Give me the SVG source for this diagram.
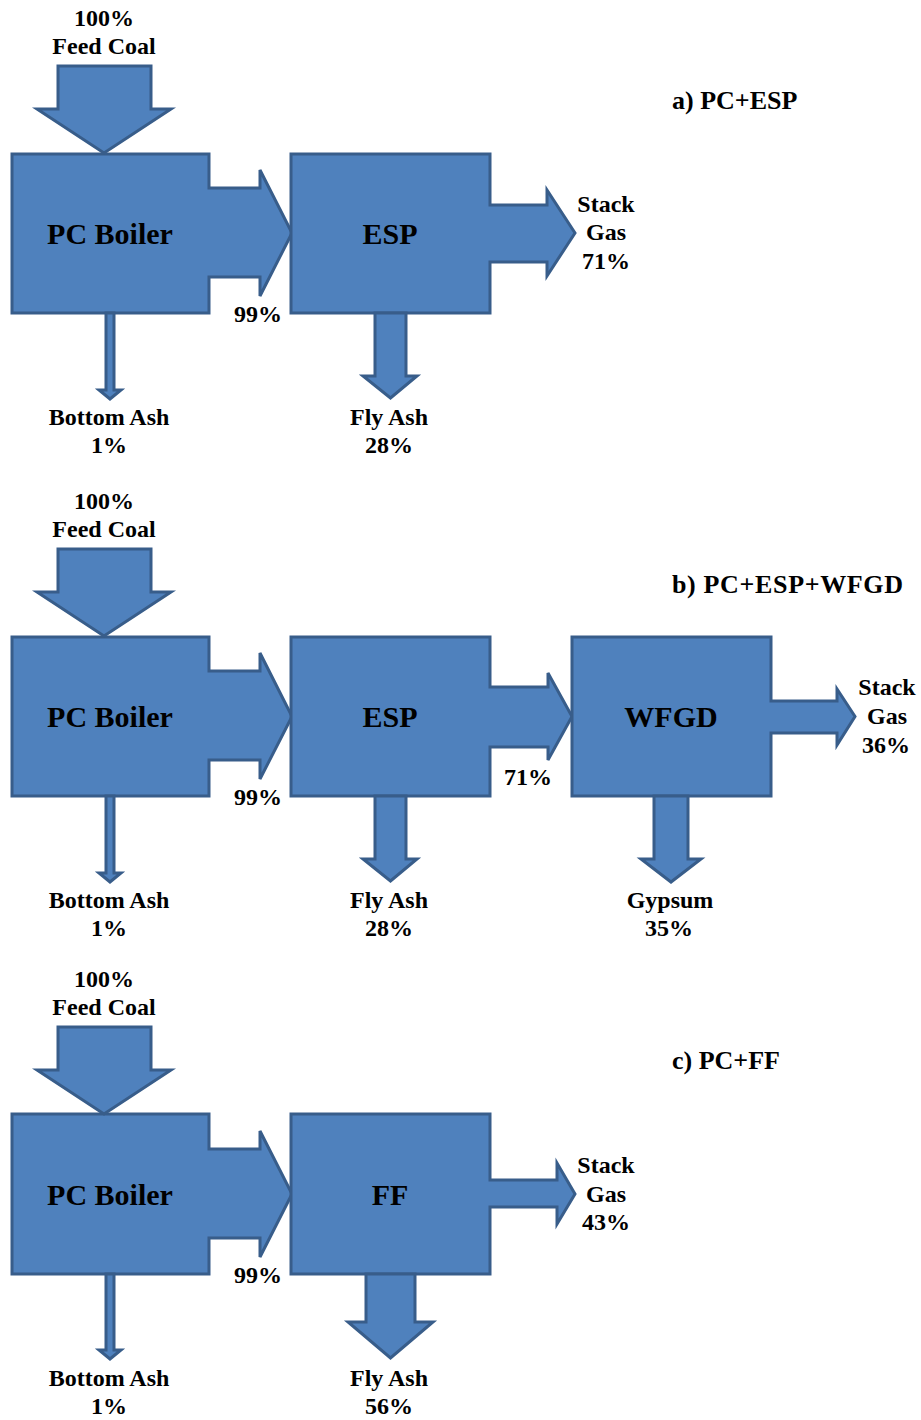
<svg xmlns="http://www.w3.org/2000/svg" width="921" height="1420" viewBox="0 0 921 1420">
<style>
.s{fill:#4F81BD;stroke:#385D8A;stroke-width:3;stroke-linejoin:miter}
text{font-family:"Liberation Serif","Times New Roman",serif;font-weight:bold;fill:#000}
.l{font-size:24px;text-anchor:middle}
.b{font-size:30px;text-anchor:middle}
.t{font-size:26px}
</style>
<rect width="921" height="1420" fill="#fff"/>

<!-- Panel a -->
<g id="panel-a">
  <g id="a-boiler"><path class="s" d="M12,154 H209 V188 H260 V170 L292,233 L260,296 V277 H209 V313 H12 Z"/><text class="b" x="110" y="244">PC Boiler</text></g>
  <g id="a-esp"><path class="s" d="M291,154 H490 V205 H547 V190 L575,233 L547,276 V262 H490 V313 H291 Z"/><text class="b" x="390" y="244">ESP</text></g>
  <g id="a-connectors">
    <path class="s" d="M58,66 H151 V109 H171 L104,153 L37,109 H58 Z"/>
    <path class="s" d="M106,313 V390 H99 L110,399 L121,390 H114 V313 Z"/>
    <path class="s" d="M375,313 V376 H363 L390.5,398 L417,376 H406 V313 Z"/>
  </g>
  <g id="a-labels">
    <text class="l" x="104" y="26">100%</text>
    <text class="l" x="104" y="54">Feed Coal</text>
    <text class="l" x="258" y="322">99%</text>
    <text class="l" x="109" y="425">Bottom Ash</text>
    <text class="l" x="109" y="453">1%</text>
    <text class="l" x="389" y="425">Fly Ash</text>
    <text class="l" x="389" y="453">28%</text>
    <text class="l" x="606" y="212">Stack</text>
    <text class="l" x="606" y="240">Gas</text>
    <text class="l" x="606" y="269">71%</text>
    <text class="t" x="672" y="109">a) PC+ESP</text>
  </g>
</g>

<!-- Panel b -->
<g id="panel-b">
  <g id="b-boiler"><path class="s" d="M12,637 H209 V671 H260 V653 L292,716.5 L260,779 V760 H209 V796 H12 Z"/><text class="b" x="110" y="727">PC Boiler</text></g>
  <g id="b-esp"><path class="s" d="M291,637 H490 V687 H548 V673 L572,716.5 L548,760 V747 H490 V796 H291 Z"/><text class="b" x="390" y="727">ESP</text></g>
  <g id="b-wfgd"><path class="s" d="M572,637 H771 V701 H837 V689 L855,716.5 L837,745 V733 H771 V796 H572 Z"/><text class="b" x="671" y="727">WFGD</text></g>
  <g id="b-connectors">
    <path class="s" d="M58,549 H151 V592 H171 L104,636 L37,592 H58 Z"/>
    <path class="s" d="M106,796 V873 H99 L110,882 L121,873 H114 V796 Z"/>
    <path class="s" d="M375,796 V859 H363 L390.5,881 L417,859 H406 V796 Z"/>
    <path class="s" d="M654,796 V859 H641 L671,882 L701,859 H688 V796 Z"/>
  </g>
  <g id="b-labels">
    <text class="l" x="104" y="509">100%</text>
    <text class="l" x="104" y="537">Feed Coal</text>
    <text class="l" x="258" y="805">99%</text>
    <text class="l" x="528" y="785">71%</text>
    <text class="l" x="109" y="908">Bottom Ash</text>
    <text class="l" x="109" y="936">1%</text>
    <text class="l" x="389" y="908">Fly Ash</text>
    <text class="l" x="389" y="936">28%</text>
    <text class="l" x="670" y="908">Gypsum</text>
    <text class="l" x="669" y="936">35%</text>
    <text class="l" x="887" y="695">Stack</text>
    <text class="l" x="887" y="724">Gas</text>
    <text class="l" x="886" y="753">36%</text>
    <text class="t" x="672" y="593" textLength="231">b) PC+ESP+WFGD</text>
  </g>
</g>

<!-- Panel c -->
<g id="panel-c">
  <g id="c-boiler"><path class="s" d="M12,1114 H209 V1149 H260 V1131 L292,1194 L260,1257 V1238 H209 V1274 H12 Z"/><text class="b" x="110" y="1205">PC Boiler</text></g>
  <g id="c-ff"><path class="s" d="M291,1114 H490 V1180 H557 V1163 L575,1194 L557,1224 V1207 H490 V1274 H291 Z"/><text class="b" x="390" y="1205">FF</text></g>
  <g id="c-connectors">
    <path class="s" d="M58,1027 H151 V1070 H171 L104,1114 L37,1070 H58 Z"/>
    <path class="s" d="M106,1274 V1350 H99 L110,1359 L121,1350 H114 V1274 Z"/>
    <path class="s" d="M366,1274 V1322 H348 L390.5,1358 L433,1322 H415 V1274 Z"/>
  </g>
  <g id="c-labels">
    <text class="l" x="104" y="987">100%</text>
    <text class="l" x="104" y="1015">Feed Coal</text>
    <text class="l" x="258" y="1283">99%</text>
    <text class="l" x="109" y="1386">Bottom Ash</text>
    <text class="l" x="109" y="1414">1%</text>
    <text class="l" x="389" y="1386">Fly Ash</text>
    <text class="l" x="389" y="1414">56%</text>
    <text class="l" x="606" y="1173">Stack</text>
    <text class="l" x="606" y="1202">Gas</text>
    <text class="l" x="606" y="1230">43%</text>
    <text class="t" x="672" y="1069">c) PC+FF</text>
  </g>
</g>
</svg>
